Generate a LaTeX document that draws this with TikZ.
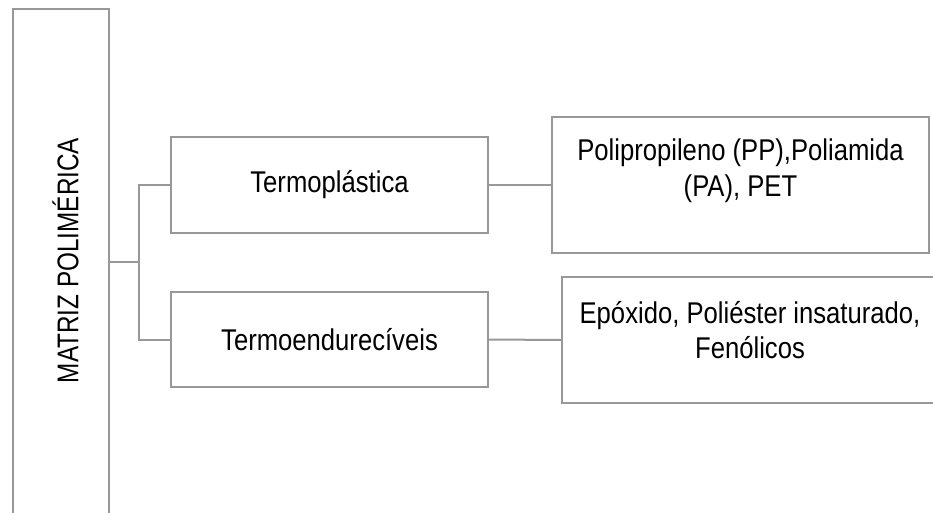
\documentclass[tikz,border=0pt]{standalone}
\usepackage{fontspec}
\setmainfont{Liberation Sans}
\newfontfamily\boxfont{Liberation Sans}[FakeStretch=0.855]
\newfontfamily\tallfont{Liberation Sans}[FakeStretch=0.81]
\usetikzlibrary{positioning}
\definecolor{framegray}{RGB}{152,152,152}
\tikzset{
    %Define style for boxes
    box/.style={
           rectangle,
           draw=framegray,
           line width=2pt,
           inner sep=0pt},
    %Define style for texts
    boxtext/.style={
           align=center,
           inner sep=0pt,
           font=\boxfont\fontsize{30}{36}\selectfont},
    % Define connector style
    link/.style={
           draw=framegray,
           line width=2pt}
}

\begin{document}
\begin{tikzpicture}[x=1pt, y=-1pt]
    \useasboundingbox (0,0) rectangle (933,513);
    \node [box, minimum width=96pt, minimum height=520pt, anchor=north west] (MP) at (12,8) {};
    \node [boxtext, rotate=90, font=\tallfont\fontsize{30}{36}\selectfont] (MPtxt) at (65.5,260.5) {MATRIZ POLIMÉRICA};
    \node [box, boxtext, minimum width=317pt, minimum height=96pt] (TP) at (329.5,185) {Termoplástica};
    \node [box, boxtext, minimum width=317pt, minimum height=95pt] (TE) at (329.5,339.5) {Termoendurecíveis};
    \node [box, minimum width=377pt, minimum height=136pt] (TPex) at (740.5,185) {};
    \node [box, minimum width=376pt, minimum height=126pt] (TEex) at (750,340) {};
    \node [boxtext, yshift=14pt] (TPextxt) at (TPex) {Polipropileno (PP),Poliamida\\(PA), PET};
    \node [boxtext, yshift=10pt, font=\boxfont\fontsize{30}{35}\selectfont] (TEextxt) at (TEex) {Epóxido, Poliéster insaturado,\\Fenólicos};
    \coordinate (fork) at (139,262);

    \draw [link] (MP.east |- fork) -- (fork);
    \draw [link] (TP.west) -| (fork) |- (TE.west);
    \draw [link] (TP.east) -- (TPex.west);
    \draw [link] (TE.east) -- (TEex.west);
\end{tikzpicture}
\end{document}
